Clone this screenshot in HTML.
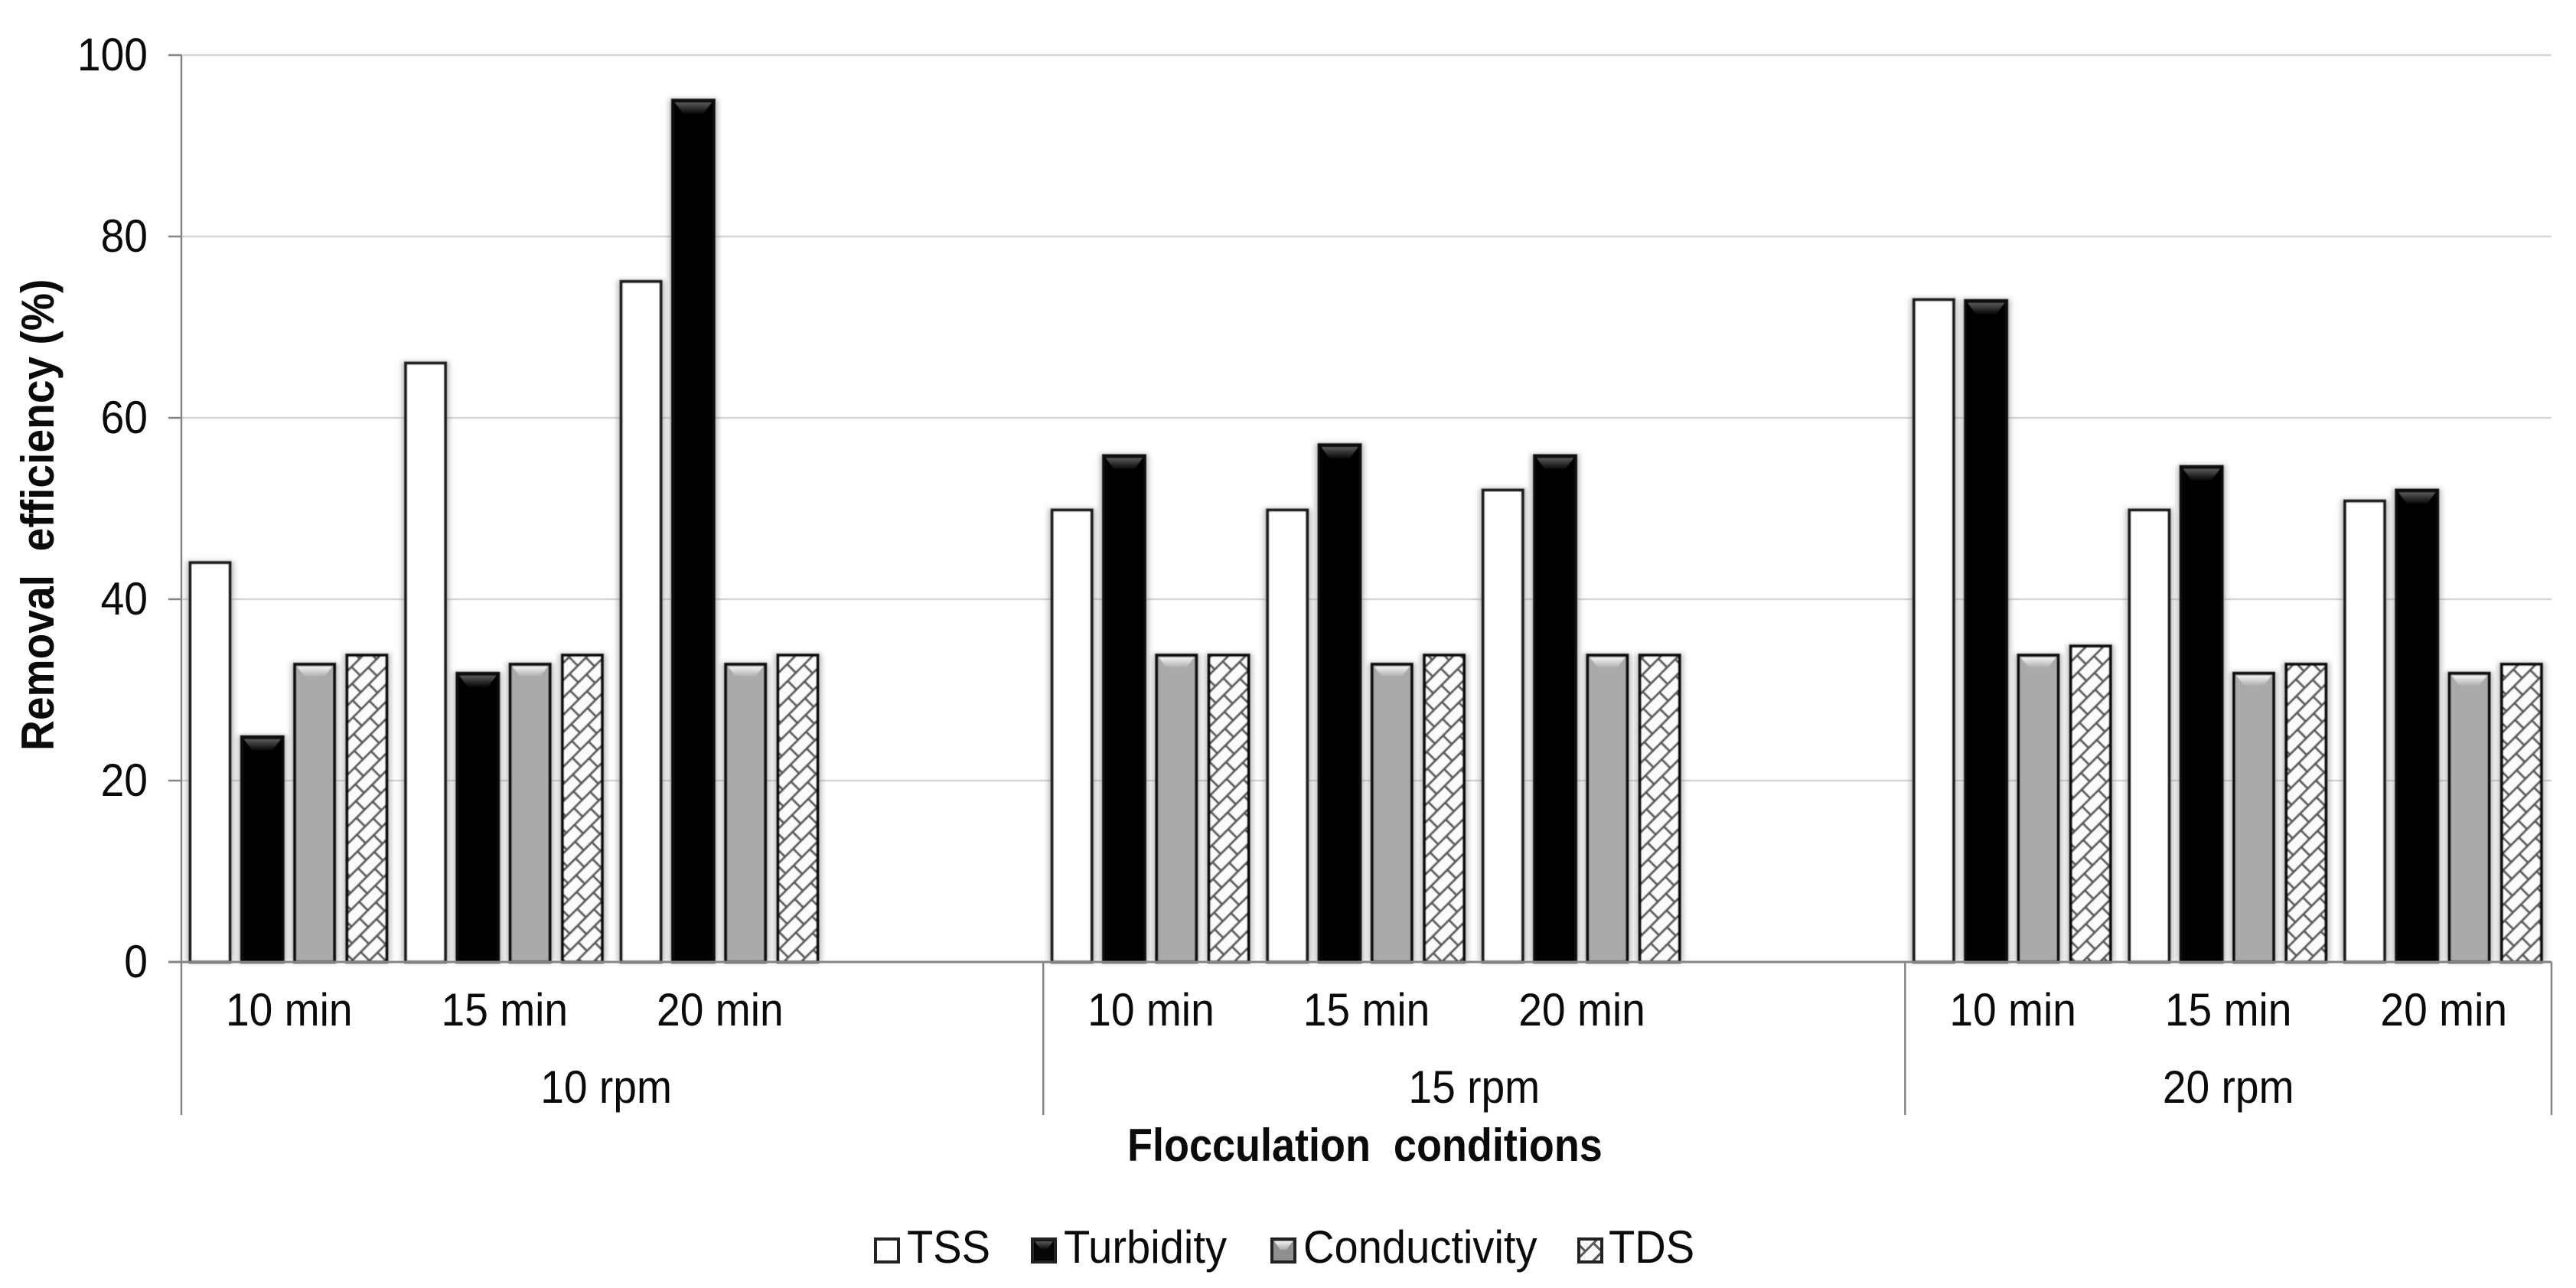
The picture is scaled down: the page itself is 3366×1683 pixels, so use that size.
<!DOCTYPE html>
<html lang="en">
<head>
<meta charset="utf-8">
<title>Removal efficiency by flocculation conditions</title>
<style>
html,body{margin:0;padding:0;background:#fff;width:3366px;height:1683px;overflow:hidden}
svg{display:block}
text{font-family:"Liberation Sans",Arial,sans-serif;fill:#0a0a0a}
</style>
</head>
<body>
<svg id="chart" xmlns="http://www.w3.org/2000/svg" width="3366" height="1683" viewBox="0 0 3366 1683">
  <defs>
    <filter id="soft" x="-30%" y="-5%" width="160%" height="110%"><feGaussianBlur stdDeviation="3.5"/></filter>
    <filter id="crisp" x="-2%" y="-2%" width="104%" height="104%"><feGaussianBlur stdDeviation="0.6"/></filter>
    <pattern id="brick" width="30" height="32" patternUnits="userSpaceOnUse" patternTransform="translate(4,3) rotate(-45)">
      <rect width="30" height="32" fill="#fbfbfb"/>
      <path d="M0 8H30M0 24H30M8 8V24M23 24V32M23 0V8" stroke="#5a5a5a" stroke-width="3" fill="none"/>
    </pattern>
    <linearGradient id="glossDark" x1="0" y1="0" x2="0" y2="1"><stop offset="0" stop-color="#5a5a5a"/><stop offset="1" stop-color="#050505"/></linearGradient>
    <linearGradient id="glossLight" x1="0" y1="0" x2="0" y2="1"><stop offset="0" stop-color="#f4f4f4"/><stop offset="1" stop-color="#a9a9a9"/></linearGradient>
  </defs>
  <rect width="3366" height="1683" fill="#fff"/>
  <g id="grid"></g>
  <g id="bars" filter="url(#crisp)"></g>
  <g id="axes"></g>
  <g id="labels"></g>
  <text transform="translate(70,981) rotate(-90) scale(0.92,1)" font-size="60" font-weight="700">Removal&#160;&#160;efficiency (%)</text>
  <text transform="translate(1473,1517) scale(0.9,1)" font-size="60" font-weight="700">Flocculation&#160;&#160;conditions</text>
  <g id="legend"></g>
</svg>
<script>
const durations = ['10 min', '15 min', '20 min'];
const speeds = ['10 rpm', '15 rpm', '20 rpm'];
const seriesNames = ['TSS', 'Turbidity', 'Conductivity', 'TDS'];
const yTicks = [0, 20, 40, 60, 80, 100];
const tss = [44.2, 66.2, 75.2, 50, 50, 52.2, 73.2, 50, 51];
const turbidity = [25, 32, 95.2, 56, 57.2, 56, 73.1, 54.8, 52.2];
const conductivity = [33, 33, 33, 34, 33, 34, 34, 32, 32];
const tds = [34, 34, 34, 34, 34, 34, 35, 33, 33];

const seriesValues = [tss, turbidity, conductivity, tds];
const NS = 'http://www.w3.org/2000/svg';
const plotLeft = 237, plotRight = 3334, plotTop = 72, plotBottom = 1257;
const slotWidth = (plotRight - plotLeft) / 11;
const barStep = 68.3, firstBarOffset = 37.5, barWidth = 56;
const yScale = v => plotBottom - (v - 0) / 100 * (plotBottom - plotTop);
const groupSlot = g => g * 4;
const xForSlot = s => plotLeft + s * slotWidth;
const make = (parent, tag, attrs) => {
  const el = document.createElementNS(NS, tag);
  for (const k in attrs) el.setAttribute(k, attrs[k]);
  parent.appendChild(el);
  return el;
};
const gridG = document.getElementById('grid');
const barsG = document.getElementById('bars');
const axesG = document.getElementById('axes');
const labelsG = document.getElementById('labels');
const legendG = document.getElementById('legend');
const AX = '#858585';

function addText(parent, x, y, str, anchor, name, sx) {
  const t = make(parent, 'text', {transform: 'translate(' + x + ',' + y + ') scale(' + (sx || 0.92) + ',1)', 'font-size': 60, 'text-anchor': anchor});
  t.textContent = str;
  
  
  return t;
}

yTicks.forEach(v => {
  const y = yScale(v);
  if (v > 0) {
    const g = make(gridG, 'line', {x1: plotLeft, x2: plotRight, y1: y, y2: y, stroke: '#d6d6d6', 'stroke-width': 2.5});
    
    
  }
  const tick = make(axesG, 'line', {x1: 220, x2: plotLeft, y1: y, y2: y, stroke: AX, 'stroke-width': 2.5});
  
  
  addText(labelsG, 193, y + 20, String(v), 'end', 'y-tick-label-' + v);
});

function drawBar(parent, s, x, top, w, bottom) {
  const h = bottom - top;
  const halo = make(parent, 'rect', {x: x - 3, y: top, width: w + 6, height: h, fill: '#8a8a8a', opacity: 0.55, filter: 'url(#soft)'});
  
  
  let fill = '#ffffff';
  if (s === 1) fill = '#040404';
  if (s === 2) fill = '#aaaaaa';
  if (s === 3) fill = 'url(#brick)';
  const r = make(parent, 'rect', {x: x + 2, y: top + 2, width: w - 4, height: h - 2, fill: fill, stroke: s === 0 ? '#1a1a1a' : '#0a0a0a', 'stroke-width': 4});
  
  
  if (s === 1 || s === 2) {
    const inset = 5, dx = 11, gh = s === 1 ? 15 : 14;
    const p = make(parent, 'polygon', {
      points: (x + inset) + ',' + (top + 5) + ' ' + (x + w - inset) + ',' + (top + 5) + ' ' + (x + w - inset - dx) + ',' + (top + 5 + gh) + ' ' + (x + inset + dx) + ',' + (top + 5 + gh),
      fill: s === 1 ? 'url(#glossDark)' : 'url(#glossLight)'
    });
    
    
  }
  return r;
}

seriesValues.forEach((vals, s) => {
  vals.forEach((v, i) => {
    const group = Math.floor(i / 3), dur = i % 3;
    const slot = groupSlot(group) + dur;
    const cx = xForSlot(slot) + firstBarOffset + s * barStep;
    const w = s === 1 ? barWidth + 2 : barWidth;
    drawBar(barsG, s, cx - w / 2, yScale(v), w, plotBottom);
  });
});

const base = make(axesG, 'line', {x1: 220, x2: plotRight, y1: plotBottom, y2: plotBottom, stroke: AX, 'stroke-width': 3});


const yAxis = make(axesG, 'line', {x1: plotLeft, x2: plotLeft, y1: plotTop, y2: 1457, stroke: AX, 'stroke-width': 2.5});



[4, 8, 11].forEach((slot, i) => {
  const x = xForSlot(slot);
  const sep = make(axesG, 'line', {x1: x, x2: x, y1: plotBottom, y2: 1457, stroke: AX, 'stroke-width': 2.5});
  
  
});

speeds.forEach((sp, g) => {
  const slots = g < 2 ? 4 : 3;
  durations.forEach((d, k) => {
    addText(labelsG, xForSlot(groupSlot(g) + k + 0.5), 1340, d, 'middle', 'x-tick-label-' + sp.replace(' ', '-') + '-' + d.replace(' ', '-'));
  });
  const nudge = g === 0 ? -8 : 0;
  addText(labelsG, xForSlot(groupSlot(g) + slots / 2) + nudge, 1441, sp, 'middle', 'group-label-' + sp.replace(' ', '-'));
});

const legendMarks = [1142, 1347, 1660, 2061];
const legendTexts = [1185, 1390, 1703, 2102];
seriesNames.forEach((n, s) => {
  const g = make(legendG, 'g', {});
  
  
  const x = legendMarks[s];
  let fill = '#ffffff';
  if (s === 1) fill = '#060606';
  if (s === 2) fill = '#8f8f8f';
  if (s === 3) fill = 'url(#brick)';
  const m = make(g, 'rect', {x: x + 2, y: 1619, width: 30, height: 30, fill: fill, stroke: '#222', 'stroke-width': 4});
  
  
  if (s === 1 || s === 2) {
    const pg = make(g, 'polygon', {points: (x + 5) + ',1622 ' + (x + 29) + ',1622 ' + (x + 21) + ',1633 ' + (x + 13) + ',1633', fill: s === 1 ? 'url(#glossDark)' : 'url(#glossLight)'});
    
    
  }
  addText(g, legendTexts[s], 1650, n, 'start', 'legend-label-' + n.toLowerCase(), 0.935);
});
</script>
</body>
</html>
